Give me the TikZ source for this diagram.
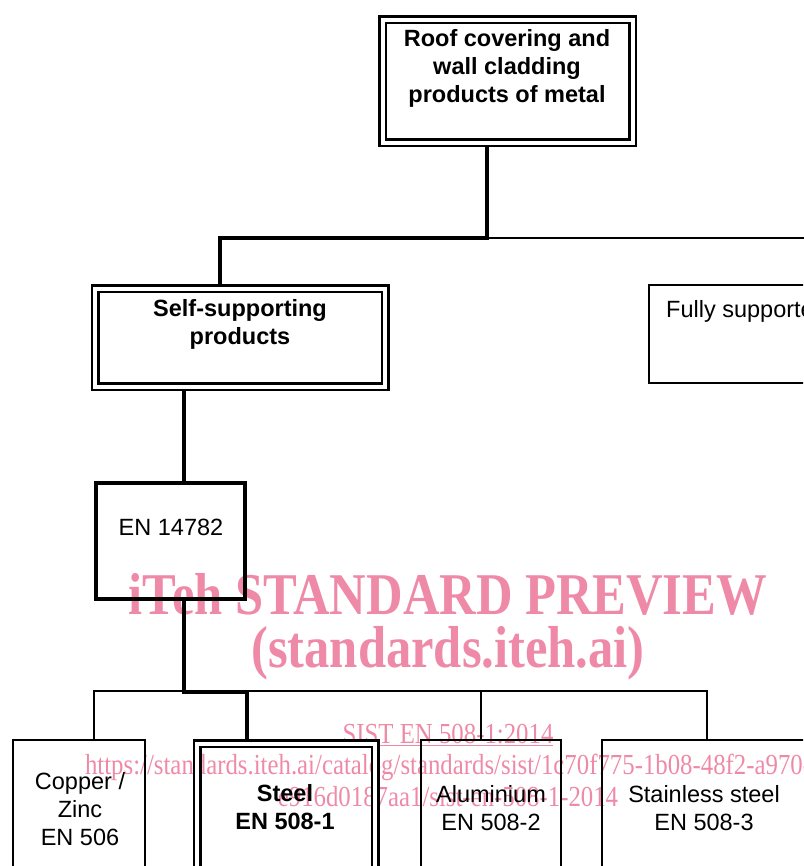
\documentclass[tikz,border=0pt]{standalone}
\usepackage{fontspec}
\setmainfont{Liberation Sans}
\newfontfamily\wmfont{Liberation Serif}
\usetikzlibrary{backgrounds}
\definecolor{wmpink}{RGB}{238,138,168}
\tikzset{
  dbox/.style={draw, double, line width=2.5pt, double distance=4pt, rectangle, inner sep=0pt},
  sbox/.style={draw, line width=1.5pt, rectangle, inner sep=0pt},
  tbox/.style={draw, line width=4.5pt, rectangle, inner sep=0pt},
  thickline/.style={line width=4pt},
  thinline/.style={line width=1.5pt},
  lbl/.style={font=\fontsize{23.5}{28}\selectfont, align=center, anchor=base, inner sep=0pt},
  blbl/.style={lbl, font=\fontsize{23.5}{28}\selectfont\bfseries},
  wmbig/.style={text=wmpink, anchor=base, inner sep=0pt, font=\wmfont\bfseries\fontsize{50.6}{50.6}\selectfont},
  wmsmall/.style={text=wmpink, anchor=base, inner sep=0pt, font=\wmfont\fontsize{24.8}{24.8}\selectfont}
}
\begin{document}
\begin{tikzpicture}[x=1pt,y=-1pt]
\useasboundingbox (0,0) rectangle (803,866);
\clip (0,0) rectangle (803,866);

% boxes (multi-line labels are placed by the baseline of their last line)
\node[dbox, minimum width=250pt, minimum height=123pt] (roof) at (507.5,81.5) {};
\node[blbl] (rooft) at (507,103) {Roof covering and\\wall cladding\\products of metal};

\node[dbox, minimum width=290pt, minimum height=98pt] (self) at (240,337.5) {};
\node[blbl] (selft) at (240,344) {Self-supporting\\products};

\node[sbox, minimum width=171pt, minimum height=98pt] (fully) at (734.5,334) {};
\node[lbl, anchor=base west] (fullyt) at (666,317) {Fully supported};

\node[tbox, minimum width=149pt, minimum height=116pt] (en) at (170.5,541) {};
\node[lbl] (ent) at (171,535) {EN 14782};

\node[sbox, minimum width=132pt, minimum height=160pt] (copper) at (79,820) {};
\node[lbl] (coppert) at (80,845) {Copper /\\Zinc\\EN 506};

\node[dbox, minimum width=178pt, minimum height=156.5pt] (steel) at (286,821.75) {};
\node[blbl] (steelt) at (285,829) {Steel\\EN 508-1};

\node[sbox, minimum width=140pt, minimum height=160pt] (alu) at (491,820) {};
\node[lbl] (alut) at (491,830) {Aluminium\\EN 508-2};

\node[sbox, minimum width=218pt, minimum height=160pt] (stainless) at (711,820) {};
\node[lbl] (stainlesst) at (704,830) {Stainless steel\\EN 508-3};

% junction coordinates
\coordinate (j1) at (487,238);
\coordinate (j2) at (220,238);
\coordinate (jr) at (815,238);
\coordinate (k1) at (184,692);
\coordinate (k2) at (247,692);
\coordinate (b1) at (94,691);
\coordinate (b3) at (481,691);
\coordinate (b4) at (707,691);

\begin{pgfonlayer}{background}
% watermark
\node[wmbig] (wm1) at (448,614) {\scalebox{1}[1.17]{iTeh STANDARD PREVIEW}};
\node[wmbig] (wm2) at (448,667) {\scalebox{1}[1.17]{(standards.iteh.ai)}};
\node[wmsmall] (wm3) at (448,743) {\scalebox{1}[1.17]{\underline{SIST EN 508-1:2014}}};
\node[wmsmall] (wm4) at (448,774) {\scalebox{1}[1.17]{https://standards.iteh.ai/catalog/standards/sist/1c70f775-1b08-48f2-a970-}};
\node[wmsmall] (wm5) at (448,806) {\scalebox{1}[1.17]{e916d0187aa1/sist-en-508-1-2014}};

% connectors
\draw[thickline] (roof.south -| j1) -- (j1) -- (j2) -- (self.north -| j2);
\draw[thinline] (j1) -- (jr);
\draw[thickline] (self.south -| k1) -- (en.north -| k1);
\draw[thinline] (copper.north -| b1) -- (b1) -- (b4) -- (stainless.north -| b4);
\draw[thinline] (b3) -- (alu.north -| b3);
\draw[thickline] (en.south -| k1) -- (k1) -- (k2) -- (steel.north -| k2);
\end{pgfonlayer}
\end{tikzpicture}
\end{document}
